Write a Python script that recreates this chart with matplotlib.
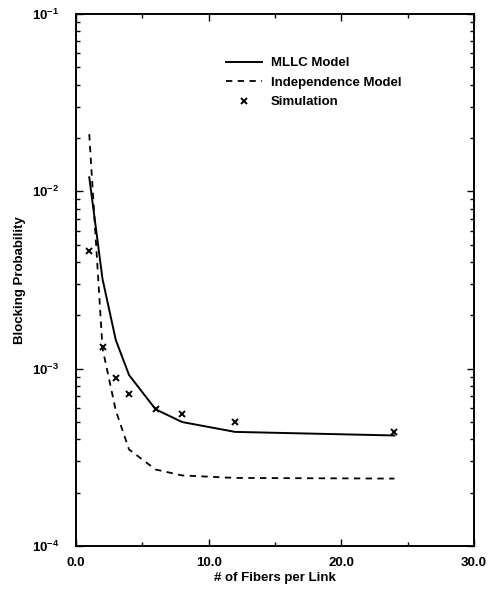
import matplotlib
matplotlib.use('Agg')
import matplotlib.pyplot as plt
from matplotlib.legend_handler import HandlerLine2D
from matplotlib.ticker import FixedLocator, LogLocator, NullFormatter

# data
fibers = [1, 2, 3, 4, 6, 8, 12, 24]
mllc = [1.2e-2, 3.2e-3, 1.45e-3, 9.2e-4, 5.9e-4, 5.0e-4, 4.4e-4, 4.2e-4]
indep = [2.1e-2, 1.3e-3, 5.8e-4, 3.5e-4, 2.7e-4, 2.5e-4, 2.42e-4, 2.4e-4]
sim = [4.6e-3, 1.32e-3, 8.85e-4, 7.2e-4, 5.9e-4, 5.55e-4, 5.0e-4, 4.4e-4]

x_ticks = [0, 10, 20, 30]
x_labels = ['0.0', '10.0', '20.0', '30.0']
y_ticks = [1e-4, 1e-3, 1e-2, 1e-1]
y_labels = [r'$\mathbf{10^{-4}}$', r'$\mathbf{10^{-3}}$', r'$\mathbf{10^{-2}}$', r'$\mathbf{10^{-1}}$']

plt.rcParams['font.family'] = ['Liberation Sans', 'DejaVu Sans']
plt.rcParams['font.weight'] = 'bold'
plt.rcParams['mathtext.fontset'] = 'custom'
plt.rcParams['mathtext.bf'] = 'Liberation Sans:bold'
plt.rcParams['mathtext.rm'] = 'Liberation Sans:bold'


# put the marker of a marker-only legend entry near the right end of the handle
class RightMarker(HandlerLine2D):
    def get_xdata(self, legend, xdescent, ydescent, width, height, fontsize):
        xdata = [-xdescent, -xdescent + width]
        return xdata, [-xdescent + 0.92 * width]


fig = plt.figure(figsize=(4.88, 5.89), dpi=100)
ax = fig.add_axes([76 / 488, 1 - 546 / 589, 398 / 488, 532 / 589])

ax.plot(fibers, mllc, color='black', lw=1.4, label='MLLC Model')
ax.plot(fibers, indep, color='black', lw=1.3, ls=(0, (3.5, 3)), label='Independence Model')
sim_line, = ax.plot(fibers, sim, ls='none', marker='x', color='black', ms=5, mew=1.4,
                    label='Simulation')

ax.set_yscale('log')
ax.set_xlim(0, 30)
ax.set_ylim(1e-4, 1e-1)

ax.xaxis.set_major_locator(FixedLocator(x_ticks))
ax.set_xticklabels(x_labels)
ax.xaxis.set_minor_locator(FixedLocator([5, 15, 25]))
ax.yaxis.set_major_locator(FixedLocator(y_ticks))
ax.set_yticklabels(y_labels)
ax.yaxis.set_minor_locator(LogLocator(base=10, subs=range(2, 10)))
ax.yaxis.set_minor_formatter(NullFormatter())

ax.tick_params(which='both', direction='in', top=True, right=True, width=1, labelsize=9.5)
ax.tick_params(which='major', length=5)
ax.tick_params(which='minor', length=3)
ax.tick_params(axis='x', pad=8)
ax.tick_params(axis='y', pad=12)
for s in ax.spines.values():
    s.set_linewidth(1.4)

ax.set_xlabel('# of Fibers per Link', fontsize=9.5, fontweight='bold', labelpad=2)
ax.set_ylabel('Blocking Probability', fontsize=9.5, fontweight='bold', labelpad=4)

ax.legend(loc='upper left', bbox_to_anchor=(226 / 488, 1 - 57 / 589),
          bbox_transform=fig.transFigure, frameon=False, fontsize=9.5,
          borderpad=0, borderaxespad=0, handlelength=2.7, handletextpad=0.7,
          labelspacing=0.55, handler_map={sim_line: RightMarker(numpoints=1)})

fig.savefig('out.png', dpi=100)
